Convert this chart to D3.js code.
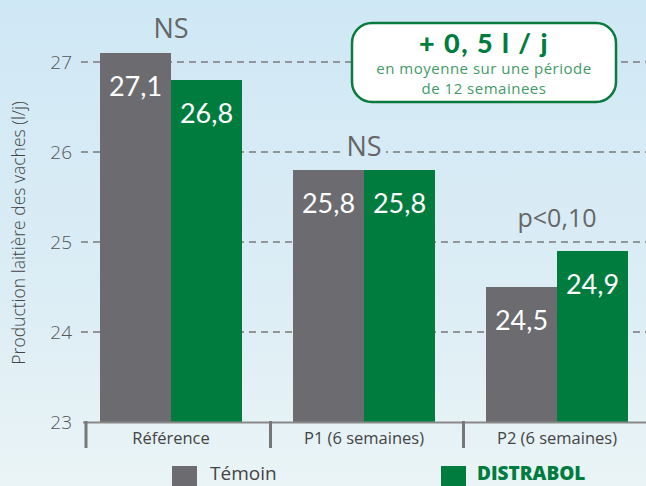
<!DOCTYPE html>
<html>
<head>
<meta charset="utf-8">
<script src="https://d3js.org/d3.v7.min.js"></script>
<style>
  body { margin: 0; }
  svg { display: block; font-family: "Open Sans", sans-serif; }
  .grid line { stroke: #7a7a7a; stroke-width: 1.3; stroke-dasharray: 7 5; }
</style>
</head>
<body>
<script>
// data
const categories = ["Référence", "P1 (6 semaines)", "P2 (6 semaines)"];
const temoin = [27.1, 25.8, 24.5];
const distrabol = [26.8, 25.8, 24.9];
const signif = ["NS", "NS", "p<0,10"];
const yTicks = [23, 24, 25, 26, 27];
const seriesNames = ["Témoin", "DISTRABOL"];

const W = 646, H = 486;
const grey = "#6b6b70", green = "#007c3e";

const svg = d3.select("body").append("svg")
  .attr("width", W).attr("height", H);

// background
const defs = svg.append("defs");
const grad = defs.append("linearGradient").attr("id", "bg")
  .attr("x1", 0).attr("y1", 0).attr("x2", 0).attr("y2", 1);
grad.append("stop").attr("offset", "0%").attr("stop-color", "#cfe8f5");
grad.append("stop").attr("offset", "60%").attr("stop-color", "#dcedf5");
grad.append("stop").attr("offset", "100%").attr("stop-color", "#eaf4f6");
svg.append("rect").attr("width", W).attr("height", H).attr("fill", "url(#bg)");

const yScale = d3.scaleLinear().domain([23, 27]).range([422, 62]);
const xScale = d3.scaleBand().domain(categories).range([74.5, 653.5]);
const barW = 71;

// gridlines
svg.append("g").attr("class", "grid")
  .selectAll("line").data(yTicks.filter(d => d > 23)).join("line")
  .attr("x1", 81).attr("x2", W)
  .attr("y1", d => yScale(d)).attr("y2", d => yScale(d));

// y axis labels
const yAxis = d3.axisLeft(yScale).tickValues(yTicks).tickFormat(d3.format("d"))
  .tickSize(0).tickPadding(0);
const yg = svg.append("g").attr("transform", "translate(72,0)").call(yAxis);
yg.select(".domain").remove();
yg.selectAll("text").attr("font-size", 19).attr("fill", "#555")
  .attr("font-family", "'Open Sans', sans-serif").attr("font-weight", 300);

svg.append("text")
  .attr("transform", "translate(25,233) rotate(-90)")
  .attr("text-anchor", "middle")
  .attr("font-size", 17.5).attr("font-weight", 300).attr("fill", "#444")
  .text("Production laitière des vaches (l/j)");

// bars
const groups = svg.append("g").selectAll("g").data(categories).join("g")
  .attr("transform", d => `translate(${xScale(d) + xScale.bandwidth() / 2},0)`);

const fmt = v => d3.format(".1f")(v).replace(".", ",");

groups.each(function(c, i) {
  const g = d3.select(this);
  const vals = [temoin[i], distrabol[i]];
  vals.forEach((v, j) => {
    const x0 = j === 0 ? -barW : 0;
    g.append("rect")
      .attr("x", x0).attr("width", barW)
      .attr("y", yScale(v)).attr("height", yScale(23) - yScale(v))
      .attr("fill", j === 0 ? grey : green);
    g.append("text")
      .attr("x", x0 + barW / 2).attr("y", yScale(v) + 43)
      .attr("text-anchor", "middle")
      .attr("font-family", "Lato, sans-serif")
      .attr("font-size", 27).attr("fill", "#fff")
      .text(fmt(v));
  });
});

// significance marks
const sigOffset = [15, 14, 24];
groups.each(function(c, i) {
  const g = d3.select(this);
  const top = yScale(Math.max(temoin[i], distrabol[i])) - sigOffset[i];
  if (i === 1) {
    g.append("rect")
      .attr("x", -22).attr("y", top - 12).attr("width", 44).attr("height", 14)
      .attr("fill", "#d6ebf6");
  }
  g.append("text")
    .attr("x", 0).attr("y", top)
    .attr("text-anchor", "middle")
    .attr("font-size", i === 2 ? 25 : 27).attr("fill", "#666")
    .text(signif[i]);
});

// x axis
svg.append("line").attr("x1", 83).attr("x2", W)
  .attr("y1", 422.5).attr("y2", 422.5)
  .attr("stroke", "#8a8a8a").attr("stroke-width", 2);
const sepX = [86, xScale(categories[1]) + 3, xScale(categories[2]) + 3];
svg.append("g").selectAll("line").data(sepX).join("line")
  .attr("x1", d => d).attr("x2", d => d)
  .attr("y1", 421).attr("y2", 448)
  .attr("stroke", "#777").attr("stroke-width", 3);
svg.append("g").selectAll("text").data(categories).join("text")
  .attr("x", d => xScale(d) + xScale.bandwidth() / 2)
  .attr("y", 444)
  .attr("text-anchor", "middle")
  .attr("font-size", 16.5).attr("fill", "#444")
  .text(d => d);

// callout
const box = svg.append("g");
box.append("rect")
  .attr("x", 352).attr("y", 23).attr("width", 264).attr("height", 79)
  .attr("rx", 20).attr("fill", "#fff")
  .attr("stroke", "#0a7a3e").attr("stroke-width", 2.5);
box.append("text").attr("x", 484).attr("y", 53).attr("text-anchor", "middle")
  .attr("font-family", "Lato, sans-serif")
  .attr("font-size", 27).attr("font-weight", 900).attr("fill", green)
  .attr("letter-spacing", 1.5)
  .text("+ 0, 5 l / j");
box.append("text").attr("x", 484).attr("y", 74).attr("text-anchor", "middle")
  .attr("font-size", 15).attr("letter-spacing", 0.5).attr("fill", "#3f9a66")
  .text("en moyenne sur une période");
box.append("text").attr("x", 484).attr("y", 94).attr("text-anchor", "middle")
  .attr("font-size", 15).attr("letter-spacing", 0.5).attr("fill", "#3f9a66")
  .text("de 12 semainees");

// legend
const legX = [172, 441];
seriesNames.forEach((name, i) => {
  svg.append("rect").attr("x", legX[i]).attr("y", 466)
    .attr("width", 25).attr("height", 25)
    .attr("fill", i === 0 ? grey : green);
  svg.append("text").attr("x", legX[i] + (i === 0 ? 38 : 36)).attr("y", 480)
    .attr("font-size", 19)
    .attr("font-weight", i === 0 ? 400 : 800)
    .attr("fill", i === 0 ? "#444" : green)
    .text(name);
});
</script>
</body>
</html>
